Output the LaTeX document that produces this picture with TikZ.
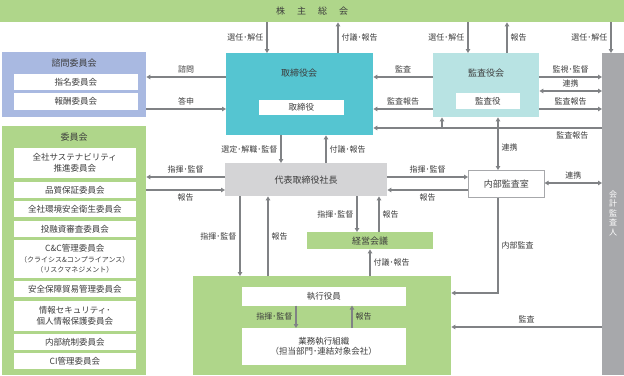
\documentclass[tikz,border=0pt]{standalone}
\usepackage{fontspec}
\setmainfont{Noto Sans CJK JP}
\usetikzlibrary{arrows.meta}
\definecolor{grn}{HTML}{AFD68A}
\definecolor{blu}{HTML}{A9B9E1}
\definecolor{teal}{HTML}{55C5D1}
\definecolor{lteal}{HTML}{B8E3E3}
\definecolor{lgray}{HTML}{D4D4D6}
\definecolor{dgray}{HTML}{A7A8AB}
\definecolor{arrc}{HTML}{808285}
\definecolor{txt}{HTML}{3C3C3C}

\begin{document}
\begin{tikzpicture}[x=1pt, y=-1pt, >={Triangle[length=4pt,width=4.5pt]},
  area/.style={anchor=north west, inner sep=0pt, draw=none},
  wbox/.style={anchor=north west, inner sep=0pt, fill=white, draw=#1, line width=0.6pt,
    align=center, text=txt, font=\fontsize{8.5}{10.5}\selectfont},
  wbox/.default=white,
  ttl/.style={text=txt, font=\fontsize{9}{11}\selectfont},
  arr/.style={draw=arrc, line width=1.1pt, ->},
  darr/.style={draw=arrc, line width=1.1pt, <->},
  lbl/.style={text=txt, inner sep=3pt, font=\fontsize{8}{9.5}\selectfont}]
\useasboundingbox (0,0) rectangle (624,375);

% areas
\node[area, fill=grn, minimum width=624pt, minimum height=22pt] (gsm) at (0,0) {};
\node[ttl] (gsmt) at (gsm.center) {株\hspace{12pt}主\hspace{12pt}総\hspace{12pt}会};

\node[area, fill=blu, minimum width=144pt, minimum height=65pt] (shimon) at (2,52) {};
\node[ttl] (shimont) at (74,63) {諮問委員会};
\node[wbox=white, minimum width=123pt, minimum height=15pt] (shimei) at (14,74) {指名委員会};
\node[wbox=white, minimum width=123pt, minimum height=16pt] (hoshu) at (14,93) {報酬委員会};

\node[area, fill=teal, minimum width=147pt, minimum height=82pt] (bod) at (226,53) {};
\node[ttl] (bodt) at (299,73) {取締役会};
\node[wbox, minimum width=84pt, minimum height=14pt] (director) at (259,100) {取締役};

\node[area, fill=lteal, minimum width=106pt, minimum height=64pt] (kansa) at (433,53) {};
\node[ttl] (kansat) at (486,73) {監査役会};
\node[wbox, minimum width=63pt, minimum height=15pt] (kansayaku) at (456,93) {監査役};

\node[area, fill=dgray, minimum width=22pt, minimum height=322pt] (auditor) at (602,53) {};
\node[text=white, align=center, font=\fontsize{8}{9.5}\selectfont] (auditort) at (613,213) {会\\計\\監\\査\\人};

\node[area, fill=grn, minimum width=144pt, minimum height=249pt] (iinkai) at (2,126) {};
\node[ttl] (iinkait) at (74,137) {委員会};
\node[wbox, minimum width=121pt, minimum height=29pt] (c1) at (14,148) {全社サステナビリティ\\推進委員会};
\node[wbox, minimum width=121pt, minimum height=15pt] (c2) at (14,182) {品質保証委員会};
\node[wbox, minimum width=121pt, minimum height=15pt] (c3) at (14,201) {全社環境安全衛生委員会};
\node[wbox, minimum width=121pt, minimum height=15pt] (c4) at (14,221) {投融資審査委員会};
\node[wbox, minimum width=121pt, minimum height=37pt] (c5) at (14,240)
  {C\&C管理委員会\\{\fontsize{7}{10}\selectfont（クライシス\&コンプライアンス）}\\{\fontsize{7}{10}\selectfont（リスクマネジメント）}};
\node[wbox, minimum width=121pt, minimum height=15pt] (c6) at (14,281) {安全保障貿易管理委員会};
\node[wbox, minimum width=121pt, minimum height=29pt] (c7) at (14,301) {情報セキュリティ･\\個人情報保護委員会};
\node[wbox, minimum width=121pt, minimum height=15pt] (c8) at (14,334) {内部統制委員会};
\node[wbox, minimum width=121pt, minimum height=15pt] (c9) at (14,353) {CI管理委員会};

\node[area, fill=lgray, minimum width=162pt, minimum height=33pt, ttl] (ceo) at (225,163) {代表取締役社長};
\node[wbox=dgray, minimum width=76pt, minimum height=27pt, ttl] (naibu) at (468,170) {内部監査室};
\node[area, fill=grn, minimum width=126pt, minimum height=17pt, ttl] (keiei) at (307,232) {経営会議};

\node[area, fill=grn, minimum width=258pt, minimum height=99pt] (execarea) at (193,276) {};
\node[wbox, minimum width=163pt, minimum height=18pt] (shikko) at (242,287) {執行役員};
\node[wbox, minimum width=163pt, minimum height=36pt] (gyomu) at (242,328) {業務執行組織\\（担当部門･連結対象会社）};

% shareholders
\draw[arr] (gsm.south -| 267,0) -- (bod.north -| 267,0) node[lbl, midway, left] {選任･解任};
\draw[arr] (bod.north -| 338,0) -- (gsm.south -| 338,0) node[lbl, midway, right] {付議･報告};
\draw[arr] (gsm.south -| 468,0) -- (kansa.north -| 468,0) node[lbl, midway, left] {選任･解任};
\draw[arr] (kansa.north -| 507,0) -- (gsm.south -| 507,0) node[lbl, midway, right] {報告};
\draw[arr] (gsm.south -| 611,0) -- (auditor.north -| 611,0) node[lbl, midway, left] {選任･解任};

% board
\draw[arr] (bod.west |- 0,77) -- (shimon.east |- 0,77) node[lbl, midway, above] {諮問};
\draw[arr] (shimon.east |- 0,109) -- (bod.west |- 0,109) node[lbl, midway, above] {答申};
\draw[arr] (kansa.west |- 0,77) -- (bod.east |- 0,77) node[lbl, midway, above] {監査};
\draw[arr] (kansa.west |- 0,109) -- (bod.east |- 0,109) node[lbl, midway, above] {監査報告};
\draw[arr] (kansa.east |- 0,77) -- (auditor.west |- 0,77) node[lbl, midway, above] {監視･監督};
\draw[darr] (kansa.east |- 0,91) -- (auditor.west |- 0,91) node[lbl, midway, above] {連携};
\draw[arr] (kansa.east |- 0,109) -- (auditor.west |- 0,109) node[lbl, midway, above] {監査報告};
\draw[arr] (auditor.west |- 0,128) -- (bod.east |- 0,128) node[lbl, pos=0.13, below] {監査報告};
\coordinate (br) at (442,128);
\draw[arr] (br) -- (kansa.south -| br);
\draw[darr] (kansa.south -| 498,0) -- (naibu.north -| 498,0) node[lbl, pos=0.58, right] {連携};

% president
\draw[arr] (bod.south -| 281,0) -- (ceo.north -| 281,0) node[lbl, midway, left] {選定･解職･監督};
\draw[arr] (ceo.north -| 326,0) -- (bod.south -| 326,0) node[lbl, midway, right] {付議･報告};
\draw[arr] (ceo.west |- 0,177) -- (iinkai.east |- 0,177) node[lbl, midway, above] {指揮･監督};
\draw[arr] (iinkai.east |- 0,190) -- (ceo.west |- 0,190) node[lbl, midway, below] {報告};
\draw[arr] (ceo.east |- 0,177) -- (naibu.west |- 0,177) node[lbl, midway, above] {指揮･監督};
\draw[arr] (naibu.west |- 0,190) -- (ceo.east |- 0,190) node[lbl, midway, below] {報告};
\draw[darr] (naibu.east |- 0,183) -- (auditor.west |- 0,183) node[lbl, midway, above] {連携};
\draw[arr] (ceo.south -| 357,0) -- (keiei.north -| 357,0) node[lbl, midway, left] {指揮･監督};
\draw[arr] (keiei.north -| 379,0) -- (ceo.south -| 379,0) node[lbl, midway, right] {報告};
\draw[arr] (ceo.south -| 240,0) -- (execarea.north -| 240,0) node[lbl, midway, left] {指揮･監督};
\draw[arr] (execarea.north -| 268,0) -- (ceo.south -| 268,0) node[lbl, midway, right] {報告};
\draw[arr] (execarea.north -| 370,0) -- (keiei.south -| 370,0) node[lbl, midway, right] {付議･報告};

% execution
\draw[arr] (naibu.south -| 498,0) -- (498,293) node[lbl, midway, right] {内部監査} -- (execarea.east |- 0,293);
\draw[arr] (auditor.west |- 0,327) -- (execarea.east |- 0,327) node[lbl, midway, above] {監査};
\draw[arr] (shikko.south -| 296,0) -- (gyomu.north -| 296,0) node[lbl, midway, left] {指揮･監督};
\draw[arr] (gyomu.north -| 352,0) -- (shikko.south -| 352,0) node[lbl, midway, right] {報告};
\end{tikzpicture}
\end{document}
